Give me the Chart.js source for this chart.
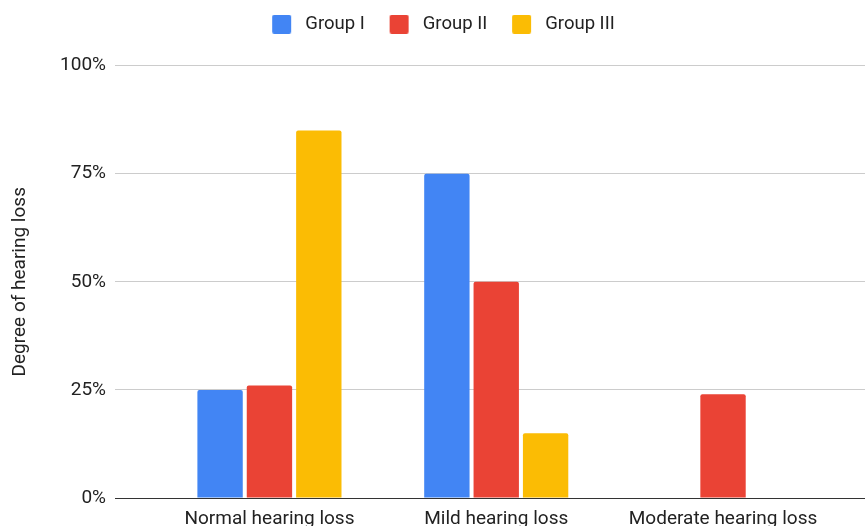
<!DOCTYPE html>
<html>
<head>
<meta charset="utf-8">
<script src="https://cdn.jsdelivr.net/npm/chart.js@4"></script>
<style>
  html, body { margin: 0; padding: 0; background: #fff; overflow: hidden; width: 865px; height: 526px; }
  canvas { display: block; }
</style>
</head>
<body>
<canvas id="chart" width="865" height="560"></canvas>
<script>
// Share of patients by degree of hearing loss, per study group (%)
const categories = ['Normal hearing loss', 'Mild hearing loss', 'Moderate hearing loss'];
const seriesNames = ['Group I', 'Group II', 'Group III'];
const groupI = [25, 75, 0];
const groupII = [26, 50, 24];
const groupIII = [85, 15, 0];
const yTicks = [0, 25, 50, 75, 100];
const seriesColors = ['#4285F4', '#EA4335', '#FBBC04'];

// Legend swatch: rounded square with transparent room before it
function swatch(color) {
  const c = document.createElement('canvas');
  c.width = 46; c.height = 19;
  const g = c.getContext('2d');
  g.fillStyle = color;
  g.beginPath();
  if (g.roundRect) g.roundRect(22, 0, 19, 19, 2); else g.rect(22, 0, 19, 19);
  g.fill();
  return c;
}

// Extra room between the legend and the plot
const legendGap = {
  id: 'legendGap',
  beforeInit(chart) {
    const fit = chart.legend.fit;
    chart.legend.fit = function () {
      fit.call(this);
      this.height += 22;
    };
  }
};

Chart.defaults.font.family = 'Roboto, "Liberation Sans", Arial, sans-serif';
Chart.defaults.color = '#222';

const series = [groupI, groupII, groupIII];

new Chart(document.getElementById('chart'), {
  type: 'bar',
  data: {
    datasets: series.map((vals, s) => ({
      label: seriesNames[s],
      data: vals.map((v, i) => ({ x: i, y: v })),
      backgroundColor: seriesColors[s],
      borderWidth: 0,
      borderRadius: { topLeft: 2, topRight: 2, bottomLeft: 0, bottomRight: 0 },
      borderSkipped: false,
      pointStyle: swatch(seriesColors[s]),
      categoryPercentage: 0.653,
      barPercentage: 0.919
    }))
  },
  plugins: [legendGap],
  options: {
    responsive: false,
    animation: false,
    devicePixelRatio: 1,
    layout: { padding: { top: 12, left: 0, right: 0, bottom: 22 } },
    plugins: {
      legend: {
        position: 'top',
        align: 'center',
        labels: {
          usePointStyle: true,
          pointStyleWidth: 45.75,
          padding: 3,
          color: '#222',
          font: { size: 18.5 }
        }
      },
      tooltip: { enabled: false }
    },
    scales: {
      x: {
        type: 'linear',
        offset: false,
        min: -0.681,
        max: 2.626,
        grid: { display: false, drawTicks: false },
        border: { display: false },
        afterBuildTicks: s => { s.ticks = categories.map((_, i) => ({ value: i })); },
        afterFit: s => { s.height = 40; },
        ticks: {
          autoSkip: false,
          maxRotation: 0,
          padding: 10,
          color: '#222',
          font: { size: 19 },
          callback: v => categories[v] ?? ''
        }
      },
      y: {
        min: 0,
        max: 100,
        grid: {
          drawTicks: false,
          lineWidth: 1,
          color: c => (c.tick && c.tick.value === 0 ? '#333333' : '#cccccc')
        },
        border: { display: false },
        afterBuildTicks: s => { s.ticks = yTicks.map(v => ({ value: v })); },
        afterFit: s => { s.width = 115; },
        ticks: {
          padding: 9,
          color: '#222',
          font: { size: 19 },
          callback: v => v + '%'
        },
        title: {
          display: true,
          text: 'Degree of hearing loss',
          color: '#222',
          font: { size: 19 },
          padding: { top: 9, bottom: 0 }
        }
      }
    }
  }
});
</script>
</body>
</html>
